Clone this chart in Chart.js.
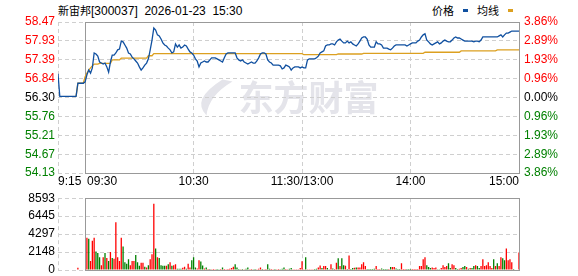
<!DOCTYPE html>
<html>
<head>
<meta charset="utf-8">
<script src="https://cdn.jsdelivr.net/npm/chart.js@4/dist/chart.umd.min.js"></script>
<style>
  html, body { margin: 0; padding: 0; background: #fff; overflow: hidden; }
  #wrap { position: relative; width: 578px; height: 276px; font-family: "Liberation Sans", Arial, "Noto Sans CJK SC", sans-serif; }
  #head { position: absolute; left: 58px; top: 3px; font-size: 12px; line-height: 14px; color: #000; white-space: pre; }
  #legend { position: absolute; right: 65px; top: 3px; font-size: 12px; line-height: 14px; color: #000; white-space: pre; }
  .cjk { font-family: "Noto Sans CJK SC", sans-serif; font-size: 11px; }
  .sw { display: inline-block; width: 5px; height: 3px; margin: 0 9px 0 9px; vertical-align: 3px; }
  .sw.last { margin-right: 0; }
  canvas { position: absolute; left: 0; }
  #priceCanvas { top: 0; }
  #volCanvas { top: 188px; }
</style>
</head>
<body>
<div id="wrap">
  <div id="head"><span class="cjk">新宙邦</span>[300037]  2026-01-23  15:30</div>
  <div id="legend"><span class="cjk">价格</span><i class="sw" style="background:#1050a0"></i><span class="cjk">均线</span><i class="sw last" style="background:#dca020"></i></div>
  <canvas id="priceCanvas" width="578" height="190"></canvas>
  <canvas id="volCanvas" width="578" height="100"></canvas>
</div>
<script>
const prevClose = 56.30;
const timeTickIdx = [0, 15, 75, 135, 195, 255];
const timeTickLabels = ['9:15', '09:30', '10:30', '11:30/13:00', '14:00', '15:00'];
const priceTicks = [58.47, 57.93, 57.39, 56.84, 56.30, 55.76, 55.21, 54.67, 54.13];
const pctLabels = ['3.86%', '2.89%', '1.93%', '0.96%', '0.00%', '0.96%', '1.93%', '2.89%', '3.86%'];
const volTicks = [0, 2148, 4297, 6445, 8593];

// 9:15 - 9:29 call auction
const auctionPrice = [56.98, 56.33, 56.33, 56.33, 56.33, 56.33, 56.33, 56.33, 56.33, 56.33, 56.33, 56.71, 56.71, 56.71, 56.71];
const auctionAvg = [null, null, null, null, null, null, null, null, null, null, 56.33, 56.71, 56.71, 56.71, 56.71];
const auctionVol = [0, 0, 0, 0, 0, 0, 0, 0, 0, 0, 0, 270, 0, 0, 0];
const auctionUp = [1, 1, 1, 1, 1, 1, 1, 1, 1, 1, 1, 1, 1, 1, 1];

// 9:30 - 11:30, 13:00 - 15:00, one value per minute
const price = [
  56.75, 56.95, 57.09, 57.00, 57.15, 57.58, 57.55, 57.49, 57.32, 57.29,
  57.26, 57.29, 57.18, 57.03, 57.32, 57.52, 57.52, 57.58, 57.67, 57.69,
  57.92, 57.90, 57.81, 57.72, 57.58, 57.55, 57.46, 57.41, 57.35, 57.29,
  57.18, 57.09, 57.15, 57.23, 57.29, 57.41, 57.67, 57.95, 58.30, 58.24,
  58.10, 58.07, 57.98, 57.87, 57.81, 57.78, 57.72, 57.67, 57.58, 57.61,
  57.84, 57.75, 57.81, 57.72, 57.75, 57.81, 57.78, 57.69, 57.61, 57.58,
  57.52, 57.41, 57.35, 57.18, 57.29, 57.32, 57.35, 57.32, 57.32, 57.38,
  57.44, 57.44, 57.44, 57.41, 57.38, 57.35, 57.32, 57.44, 57.55, 57.58,
  57.58, 57.58, 57.58, 57.58, 57.44, 57.38, 57.35, 57.38, 57.32, 57.29,
  57.26, 57.29, 57.32, 57.29, 57.29, 57.35, 57.44, 57.55, 57.58, 57.58,
  57.55, 57.38, 57.32, 57.29, 57.23, 57.23, 57.23, 57.23, 57.21, 57.12,
  57.15, 57.23, 57.21, 57.18, 57.09, 57.15, 57.18, 57.18, 57.18, 57.15,
  57.18, 57.15, 57.15, 57.38, 57.41, 57.41, 57.41, 57.41, 57.44, 57.49,
  57.58, 57.61, 57.64, 57.78, 57.81, 57.81, 57.84, 57.84, 57.81, 57.90,
  57.95, 57.98, 57.92, 57.87, 57.87, 57.92, 57.87, 57.90, 57.84, 57.81,
  57.78, 57.84, 57.92, 58.01, 58.04, 58.04, 57.98, 57.81, 57.75, 57.75,
  57.75, 57.90, 57.84, 57.84, 57.81, 57.72, 57.72, 57.72, 57.69, 57.67,
  57.72, 57.78, 57.81, 57.81, 57.81, 57.81, 57.81, 57.81, 57.78, 57.81,
  57.84, 57.87, 57.87, 57.87, 57.92, 57.95, 58.04, 58.10, 58.13, 57.95,
  57.90, 57.84, 57.81, 57.84, 57.87, 57.90, 57.84, 57.87, 57.92, 57.95,
  57.92, 57.90, 57.90, 57.95, 58.01, 58.04, 58.01, 58.01, 57.98, 57.95,
  57.92, 57.92, 57.92, 57.92, 57.92, 57.90, 57.92, 57.92, 57.90, 57.95,
  58.04, 58.04, 58.04, 58.04, 58.04, 58.04, 58.04, 58.04, 58.04, 58.07,
  58.10, 58.04, 58.10, 58.15, 58.15, 58.18, 58.21, 58.21, 58.21, 58.21, 58.21
];

const avgPrice = [
  56.90, 57.00, 57.09, 57.15, 57.21, 57.26, 57.26, 57.26, 57.28, 57.28,
  57.28, 57.28, 57.28, 57.28, 57.28, 57.38, 57.38, 57.38, 57.38, 57.38,
  57.43, 57.43, 57.43, 57.43, 57.43, 57.43, 57.43, 57.43, 57.43, 57.43,
  57.43, 57.43, 57.43, 57.43, 57.43, 57.50, 57.50, 57.50, 57.56, 57.56,
  57.56, 57.56, 57.56, 57.56, 57.56, 57.56, 57.56, 57.56, 57.56, 57.56,
  57.56, 57.56, 57.56, 57.56, 57.56, 57.56, 57.56, 57.56, 57.56, 57.56,
  57.56, 57.56, 57.56, 57.56, 57.56, 57.56, 57.56, 57.56, 57.56, 57.56,
  57.56, 57.56, 57.56, 57.56, 57.56, 57.56, 57.56, 57.56, 57.56, 57.56,
  57.56, 57.56, 57.56, 57.56, 57.56, 57.56, 57.56, 57.56, 57.56, 57.56,
  57.56, 57.56, 57.56, 57.56, 57.56, 57.56, 57.56, 57.56, 57.56, 57.56,
  57.56, 57.56, 57.56, 57.56, 57.56, 57.56, 57.56, 57.56, 57.56, 57.56,
  57.56, 57.56, 57.56, 57.56, 57.56, 57.56, 57.56, 57.56, 57.56, 57.56,
  57.56, 57.53, 57.53, 57.53, 57.53, 57.53, 57.53, 57.53, 57.53, 57.53,
  57.53, 57.53, 57.53, 57.53, 57.53, 57.53, 57.53, 57.53, 57.53, 57.53,
  57.55, 57.55, 57.55, 57.55, 57.55, 57.55, 57.55, 57.55, 57.55, 57.55,
  57.55, 57.55, 57.55, 57.55, 57.57, 57.57, 57.57, 57.57, 57.57, 57.57,
  57.57, 57.57, 57.57, 57.57, 57.57, 57.57, 57.57, 57.57, 57.57, 57.57,
  57.57, 57.57, 57.57, 57.57, 57.57, 57.57, 57.57, 57.57, 57.57, 57.57,
  57.57, 57.57, 57.57, 57.57, 57.57, 57.57, 57.57, 57.57, 57.60, 57.60,
  57.60, 57.60, 57.60, 57.60, 57.60, 57.60, 57.60, 57.60, 57.60, 57.60,
  57.60, 57.60, 57.60, 57.60, 57.60, 57.60, 57.60, 57.60, 57.64, 57.64,
  57.64, 57.64, 57.64, 57.64, 57.64, 57.64, 57.64, 57.64, 57.64, 57.64,
  57.64, 57.64, 57.64, 57.64, 57.64, 57.64, 57.64, 57.64, 57.67, 57.67,
  57.67, 57.67, 57.67, 57.67, 57.67, 57.67, 57.67, 57.67, 57.67, 57.67, 57.67
];

const volume = [
  0, 3850, 3730, 1090, 3500, 3850, 2220, 2020, 1520, 580,
  1520, 2020, 1440, 1090, 2140, 1440, 1360, 5720, 1520, 1090,
  3850, 2800, 930, 740, 1280, 580, 1090, 1090, 1790, 930,
  510, 860, 860, 390, 310, 580, 1280, 1870, 7940, 2570,
  1520, 1440, 580, 510, 510, 510, 700, 930, 510, 580,
  700, 160, 160, 160, 270, 390, 160, 740, 310, 1170,
  1520, 310, 190, 1170, 1010, 540, 190, 310, 120, 120,
  80, 120, 80, 120, 80, 120, 310, 120, 80, 120,
  160, 230, 390, 700, 310, 120, 80, 120, 80, 160,
  310, 80, 120, 80, 120, 80, 160, 310, 120, 80,
  120, 700, 160, 120, 80, 120, 80, 120, 80, 160,
  310, 120, 80, 160, 230, 80, 80, 80, 80, 230,
  1050, 80, 1520, 80, 80, 80, 80, 120, 160, 310,
  540, 230, 470, 470, 230, 80, 700, 190, 120, 860,
  1400, 470, 1400, 580, 510, 120, 1750, 120, 230, 270,
  310, 310, 310, 700, 930, 470, 120, 120, 120, 120,
  160, 470, 120, 120, 190, 120, 120, 120, 120, 350,
  350, 350, 190, 120, 120, 820, 120, 120, 120, 120,
  120, 120, 120, 120, 120, 470, 470, 1280, 1520, 580,
  350, 230, 310, 230, 310, 80, 80, 230, 580, 350,
  470, 820, 230, 700, 580, 230, 120, 160, 230, 350,
  470, 350, 160, 230, 230, 470, 580, 470, 230, 470,
  1280, 470, 580, 930, 470, 230, 1280, 470, 820, 470,
  1520, 1400, 1170, 2570, 1170, 1280, 930, 120, 0, 0, 2100
];

// 1 = up minute (red), 0 = down minute (green)
const volUp = [
  1, 1, 0, 1, 1, 1, 0, 0, 0, 1,
  1, 0, 1, 0, 1, 0, 1, 1, 1, 1,
  1, 0, 0, 0, 0, 1, 1, 1, 0, 0,
  0, 1, 1, 0, 1, 0, 1, 1, 1, 0,
  1, 0, 0, 0, 0, 1, 0, 1, 0, 1,
  1, 0, 0, 0, 1, 1, 0, 1, 1, 0,
  0, 0, 1, 1, 0, 0, 1, 0, 1, 0,
  1, 1, 1, 0, 0, 1, 0, 1, 1, 1,
  1, 1, 1, 0, 0, 0, 1, 0, 1, 0,
  0, 1, 1, 0, 0, 1, 1, 1, 0, 1,
  1, 0, 0, 1, 1, 0, 1, 1, 0, 0,
  0, 1, 1, 0, 0, 1, 1, 1, 1, 1,
  1, 1, 0, 1, 1, 1, 1, 0, 0, 1,
  1, 0, 1, 1, 0, 0, 1, 0, 1, 1,
  0, 1, 0, 0, 1, 0, 1, 0, 0, 1,
  0, 1, 1, 1, 1, 1, 0, 0, 0, 0,
  0, 1, 1, 1, 0, 0, 0, 0, 1, 0,
  1, 1, 0, 0, 0, 1, 1, 1, 0, 0,
  0, 1, 1, 1, 1, 1, 1, 1, 1, 0,
  0, 0, 1, 1, 1, 0, 0, 1, 1, 1,
  1, 0, 0, 1, 1, 0, 0, 1, 1, 0,
  0, 1, 0, 1, 0, 0, 1, 0, 0, 1,
  1, 1, 1, 1, 1, 1, 0, 1, 0, 1,
  1, 0, 0, 1, 1, 1, 1, 0, 1, 1, 1
];

const RED = '#ff0000';
const GREEN = '#008000';
const GRID = '#cfcfcf';
const FONT = '"Liberation Sans", Arial, sans-serif';

Chart.defaults.font.family = FONT;
Chart.defaults.font.size = 12;
Chart.defaults.color = '#000';

const lastIdx = auctionPrice.length + price.length - 1;
const openIdx = auctionPrice.length;

function levelColor(v) {
  if (v > prevClose + 1e-9) return RED;
  if (v < prevClose - 1e-9) return GREEN;
  return '#000';
}

const toPoints = arr => arr.map((v, i) => ({ x: i, y: v }));

// solid frame around the continuous trading session
const sessionFrame = {
  id: 'sessionFrame',
  beforeDatasetsDraw(chart) {
    const { ctx, chartArea, scales } = chart;
    const x0 = Math.round(scales.x.getPixelForValue(openIdx)) + 0.5;
    const x1 = Math.round(scales.x.getPixelForValue(lastIdx)) + 0.5;
    const y0 = Math.round(chartArea.top) + 0.5;
    const y1 = Math.round(chartArea.bottom) + 0.5;
    ctx.save();
    ctx.strokeStyle = '#999';
    ctx.lineWidth = 1;
    ctx.strokeRect(x0, y0, x1 - x0, y1 - y0);
    ctx.restore();
  }
};

const watermark = {
  id: 'watermark',
  beforeDraw(chart) {
    const { ctx, chartArea } = chart;
    const cx = (chartArea.left + chartArea.right) / 2;
    const cy = (chartArea.top + chartArea.bottom) / 2;
    ctx.save();
    ctx.fillStyle = '#e4e4ea';
    ctx.font = 'bold 35px "Noto Sans CJK SC", sans-serif';
    ctx.textAlign = 'center';
    ctx.textBaseline = 'middle';
    ctx.fillText('东方财富', cx + 20, cy);
    ctx.beginPath();
    ctx.moveTo(cx - 66, cy - 18);
    ctx.quadraticCurveTo(cx - 98, cy + 2, cx - 82, cy + 18);
    ctx.quadraticCurveTo(cx - 80, cy - 2, cx - 56, cy - 16);
    ctx.closePath();
    ctx.fill();
    ctx.restore();
  }
};

const timeLabels = {
  id: 'timeLabels',
  afterDraw(chart) {
    const { ctx, chartArea, scales } = chart;
    ctx.save();
    ctx.font = '12px ' + FONT;
    ctx.fillStyle = '#000';
    ctx.textBaseline = 'middle';
    timeTickIdx.forEach((t, i) => {
      let px = scales.x.getPixelForValue(t);
      if (i === 0) { ctx.textAlign = 'left'; }
      else if (i === 1) { ctx.textAlign = 'left'; px += 2; }
      else if (i === timeTickIdx.length - 1) { ctx.textAlign = 'right'; }
      else { ctx.textAlign = 'center'; }
      ctx.fillText(timeTickLabels[i], px, chartArea.bottom + 9);
    });
    ctx.restore();
  }
};

const xAxis = {
  type: 'linear',
  min: 0,
  max: lastIdx,
  offset: false,
  ticks: { display: false },
  grid: { color: GRID, drawTicks: false, offset: false },
  border: { display: false, dash: [4, 3] },
  afterBuildTicks: s => { s.ticks = timeTickIdx.map(v => ({ value: v })); }
};

new Chart(document.getElementById('priceCanvas'), {
  type: 'line',
  data: {
    datasets: [
      {
        label: '价格',
        data: toPoints(auctionPrice.concat(price)),
        borderColor: '#1050a0',
        borderWidth: 1.3,
        pointRadius: 0,
        tension: 0
      },
      {
        label: '均线',
        data: toPoints(auctionAvg.concat(avgPrice)),
        borderColor: '#dca020',
        borderWidth: 1.3,
        pointRadius: 0,
        tension: 0
      }
    ]
  },
  options: {
    responsive: false,
    animation: false,
    devicePixelRatio: 1,
    layout: { padding: { top: 22, bottom: 17, left: 0, right: 0 } },
    plugins: { legend: { display: false }, tooltip: { enabled: false } },
    scales: {
      x: xAxis,
      y: {
        position: 'left',
        min: priceTicks[priceTicks.length - 1],
        max: priceTicks[0],
        afterBuildTicks: s => { s.ticks = priceTicks.map(v => ({ value: v })); },
        afterFit: s => { s.width = 58; },
        ticks: {
          padding: 3,
          autoSkip: false,
          callback: v => v.toFixed(2),
          color: c => levelColor(c.tick.value)
        },
        grid: { color: GRID, drawTicks: false },
        border: { display: false, dash: [4, 3] }
      },
      y1: {
        position: 'right',
        min: priceTicks[priceTicks.length - 1],
        max: priceTicks[0],
        afterBuildTicks: s => { s.ticks = priceTicks.map(v => ({ value: v })); },
        afterFit: s => { s.width = 59; },
        ticks: {
          padding: 5,
          autoSkip: false,
          callback: (v, i) => pctLabels[i],
          color: c => levelColor(priceTicks[c.index])
        },
        grid: { display: false, drawTicks: false },
        border: { display: false }
      }
    }
  },
  plugins: [watermark, sessionFrame, timeLabels]
});

const allVol = auctionVol.concat(volume);
const allUp = auctionUp.concat(volUp);

new Chart(document.getElementById('volCanvas'), {
  type: 'bar',
  data: {
    datasets: [{
      label: '成交量',
      data: toPoints(allVol),
      backgroundColor: allUp.map(u => (u ? RED : GREEN)),
      borderWidth: 0,
      barPercentage: 0.8,
      categoryPercentage: 0.9
    }]
  },
  options: {
    responsive: false,
    animation: false,
    devicePixelRatio: 1,
    layout: { padding: { top: 9, bottom: 18, left: 0, right: 59 } },
    plugins: { legend: { display: false }, tooltip: { enabled: false } },
    scales: {
      x: xAxis,
      y: {
        position: 'left',
        min: 0,
        max: volTicks[volTicks.length - 1],
        afterBuildTicks: s => { s.ticks = volTicks.map(v => ({ value: v })); },
        afterFit: s => { s.width = 58; },
        ticks: { padding: 3, autoSkip: false, callback: v => String(v), color: '#000' },
        grid: { color: GRID, drawTicks: false },
        border: { display: false, dash: [4, 3] }
      }
    }
  },
  plugins: [sessionFrame]
});
</script>
</body>
</html>
